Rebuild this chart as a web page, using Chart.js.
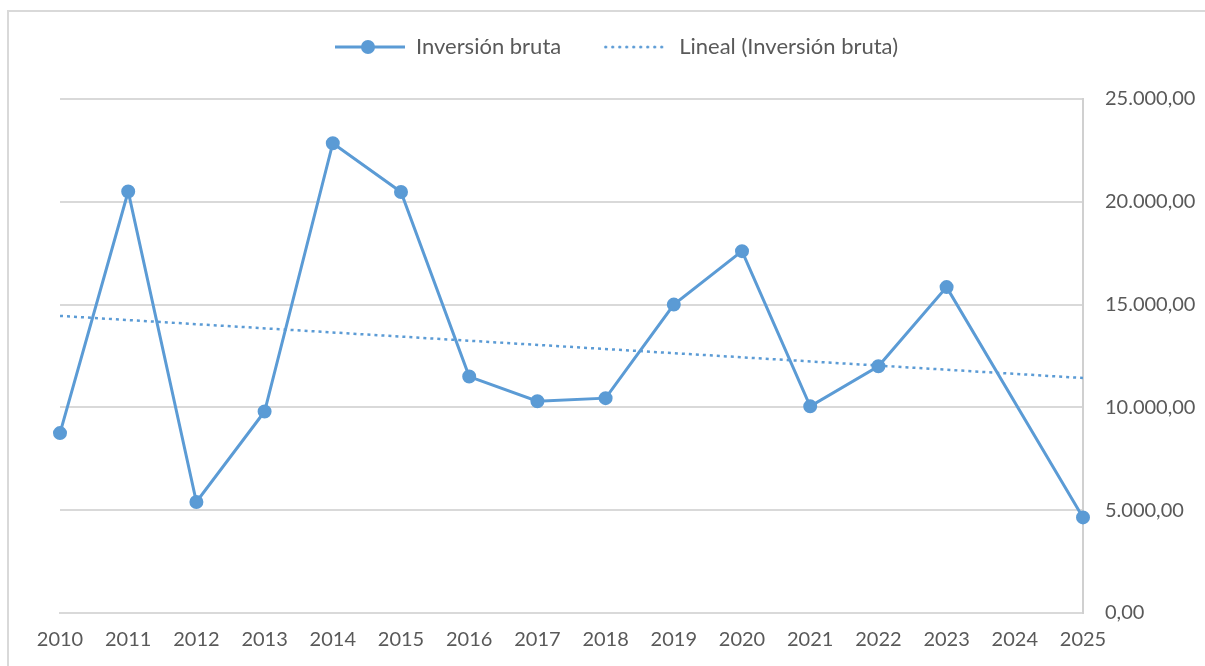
<!DOCTYPE html>
<html>
<head>
<meta charset="utf-8">
<script src="https://cdn.jsdelivr.net/npm/chart.js@4/dist/chart.umd.min.js"></script>
<style>
  html, body { margin: 0; padding: 0; background: #fff; overflow: hidden; }
  #wrap { position: absolute; left: 0; top: 0; width: 1205px; height: 666px; }
  #frame { position: absolute; left: 7px; top: 10px; width: 1300px; height: 800px;
           border: 2px solid #d9d9d9; pointer-events: none; }
</style>
</head>
<body>
<div id="wrap">
  <div id="frame"></div>
  <canvas id="chart" width="1205" height="666"></canvas>
</div>
<script>
// datos
const years = ['2010', '2011', '2012', '2013', '2014', '2015', '2016', '2017',
               '2018', '2019', '2020', '2021', '2022', '2023', '2024', '2025'];
const inversionBruta = [8750, 20500, 5400, 9800, 22850, 20480, 11500, 10300,
                        10450, 15000, 17600, 10050, 12000, 15850, null, 4650];
// línea de tendencia (solo extremos)
const tendencia = [14450, null, null, null, null, null, null, null,
                   null, null, null, null, null, null, null, 11430];
const yTicks = [0, 5000, 10000, 15000, 20000, 25000];

const azul = '#5b9bd5';
const gris = '#595959';

Chart.defaults.font.family = 'Lato, "Open Sans", sans-serif';
Chart.defaults.color = gris;

// iconos de la leyenda (76 px, la caja de Chart.js mide 64)
function iconoSerie() {
  const c = document.createElement('canvas');
  c.width = 76; c.height = 18;
  const g = c.getContext('2d');
  g.strokeStyle = azul; g.lineWidth = 3;
  g.beginPath(); g.moveTo(0, 9); g.lineTo(70, 9); g.stroke();
  g.fillStyle = azul;
  g.beginPath(); g.arc(33, 9, 7, 0, Math.PI * 2); g.fill();
  return c;
}
function iconoTendencia() {
  const c = document.createElement('canvas');
  c.width = 76; c.height = 18;
  const g = c.getContext('2d');
  g.fillStyle = azul;
  for (let x = 6; x < 68; x += 7) {
    g.beginPath(); g.arc(x + 1.5, 9, 1.6, 0, Math.PI * 2); g.fill();
  }
  return c;
}
const iconos = [iconoSerie(), iconoTendencia()];

// espacio entre la leyenda y el área del gráfico
const legendGap = {
  id: 'legendGap',
  beforeInit(chart) {
    const fit = chart.legend.fit;
    chart.legend.fit = function () {
      fit.bind(chart.legend)();
      this.height = 99;
    };
  },
  afterLayout(chart) {
    const lg = chart.legend;
    lg.top -= 7; lg.bottom -= 7;
    lg.left -= 13; lg.right -= 13;
  }
};

const ctx = document.getElementById('chart').getContext('2d');
new Chart(ctx, {
  type: 'line',
  data: {
    labels: years,
    datasets: [
      {
        label: 'Inversión bruta',
        data: inversionBruta,
        borderColor: azul,
        backgroundColor: azul,
        borderWidth: 3,
        pointRadius: 6,
        pointBorderWidth: 2,
        pointBackgroundColor: azul,
        pointBorderColor: azul,
        spanGaps: true,
        tension: 0,
      },
      {
        label: 'Lineal (Inversión bruta)',
        data: tendencia,
        borderColor: azul,
        borderWidth: 2.5,
        borderDash: [3, 4],
        pointRadius: 0,
        spanGaps: true,
        tension: 0,
      },
    ],
  },
  options: {
    responsive: false,
    animation: false,
    layout: { padding: { top: 0, left: 60, right: 0, bottom: 0 } },
    plugins: {
      tooltip: { enabled: false },
      legend: {
        position: 'top',
        labels: {
          usePointStyle: true,
          pointStyleWidth: 64,
          padding: 43,
          color: gris,
          font: { size: 22 },
          generateLabels(chart) {
            return chart.data.datasets.map((ds, i) => ({
              text: ds.label,
              pointStyle: iconos[i],
              fillStyle: azul,
              strokeStyle: azul,
              lineWidth: 0,
              datasetIndex: i,
              fontColor: gris,
            }));
          },
        },
      },
    },
    scales: {
      x: {
        type: 'category',
        offset: false,
        grid: { display: false, drawTicks: false },
        border: { display: true, color: '#d9d9d9', width: 2 },
        ticks: { padding: 15, maxRotation: 0, autoSkip: false, font: { size: 20 }, color: gris },
        afterFit(scale) { scale.height = 53; },
      },
      y: {
        position: 'right',
        min: 0,
        max: 25000,
        afterBuildTicks(scale) { scale.ticks = yTicks.map(v => ({ value: v })); },
        grid: { color: '#d9d9d9', lineWidth: 2, drawTicks: false },
        border: { display: true, color: '#d0d0d0', width: 2 },
        ticks: {
          padding: 22,
          font: { size: 20 },
          color: gris,
          callback: (v) => v.toLocaleString('de-DE', { minimumFractionDigits: 2, maximumFractionDigits: 2 }),
        },
        afterFit(scale) { scale.width = 122; },
      },
    },
  },
  plugins: [legendGap],
});
</script>
</body>
</html>
